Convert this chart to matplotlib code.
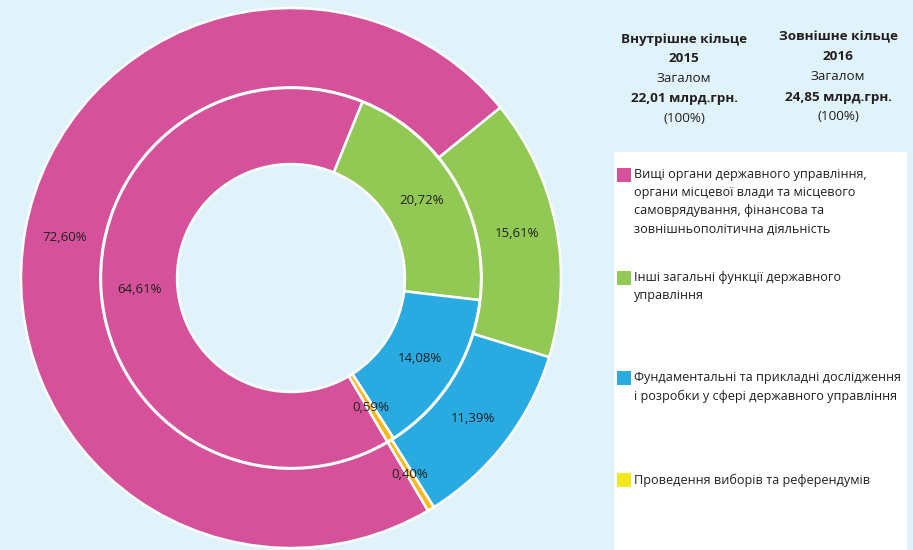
import matplotlib.pyplot as plt
from matplotlib.patches import Rectangle

categories = [
    "Вищі органи державного управління,\nоргани місцевої влади та місцевого\nсамоврядування, фінансова та\nзовнішньополітична діяльність",
    "Інші загальні функції державного\nуправління",
    "Фундаментальні та прикладні дослідження\nі розробки у сфері державного управління",
    "Проведення виборів та референдумів",
]
share_2015 = [64.61, 20.72, 14.08, 0.59]   # inner ring
share_2016 = [72.60, 15.61, 11.39, 0.40]   # outer ring
headers = [
    ["Внутрішне кільце", "2015", "Загалом", "22,01 млрд.грн.", "(100%)"],
    ["Зовнішне кільце", "2016", "Загалом", "24,85 млрд.грн.", "(100%)"],
]

colors = ["#D5529B", "#92C854", "#29ABE2", "#F8B817"]
legend_colors = ["#D5529B", "#92C854", "#29ABE2", "#F2E81B"]
bg = "#E1F3FA"
txt = "#231F20"
W, H = 913, 550

plt.rcParams['font.family'] = ['Open Sans', 'DejaVu Sans']

fig = plt.figure(figsize=(W / 100, H / 100), dpi=100, facecolor=bg)
ax = fig.add_axes([21 / W, 2 / H, 540 / W, 540 / H])
ax.set_facecolor('none')


def fmt(p):
    return f"{p:.2f}%".replace('.', ',')


ax.pie(share_2016, radius=1.0, colors=colors, startangle=-59.5, counterclock=False,
       wedgeprops=dict(width=0.294, edgecolor='white', linewidth=1.8),
       autopct=fmt, pctdistance=0.852,
       textprops=dict(fontsize=9.5, color=txt))
ax.pie(share_2015, radius=0.704, colors=colors, startangle=-59.5, counterclock=False,
       wedgeprops=dict(width=0.282, edgecolor='white', linewidth=1.8),
       autopct=fmt, pctdistance=0.8,
       textprops=dict(fontsize=9.5, color=txt))
ax.set_xlim(-1, 1)
ax.set_ylim(-1, 1)
ax.axis('off')

# header block
col_x = [684, 838]
row_y = [[39, 59, 79, 99, 118], [37, 57, 77, 97, 116]]
bold_rows = [True, True, False, True, False]
for c in range(2):
    for r, line in enumerate(headers[c]):
        fig.text(col_x[c] / W, 1 - row_y[c][r] / H, line, ha='center', va='center',
                 fontsize=9.7, color=txt, fontweight='bold' if bold_rows[r] else 'normal')

# legend box
fig.patches.append(Rectangle((614 / W, 0), (907 - 614) / W, (H - 152) / H,
                             transform=fig.transFigure, facecolor='white', edgecolor='none'))
item_y = [175, 278, 378, 480]
for i, label in enumerate(categories):
    y0 = item_y[i]
    fig.patches.append(Rectangle((617 / W, 1 - (y0 + 7) / H), 14 / W, 14 / H,
                                 transform=fig.transFigure, facecolor=legend_colors[i],
                                 edgecolor='none'))
    for k, line in enumerate(label.split('\n')):
        fig.text(634 / W, 1 - (y0 + 18 * k) / H, line, ha='left', va='center',
                 fontsize=9.1, color=txt)

fig.savefig('out.png', dpi=100, facecolor=bg)
